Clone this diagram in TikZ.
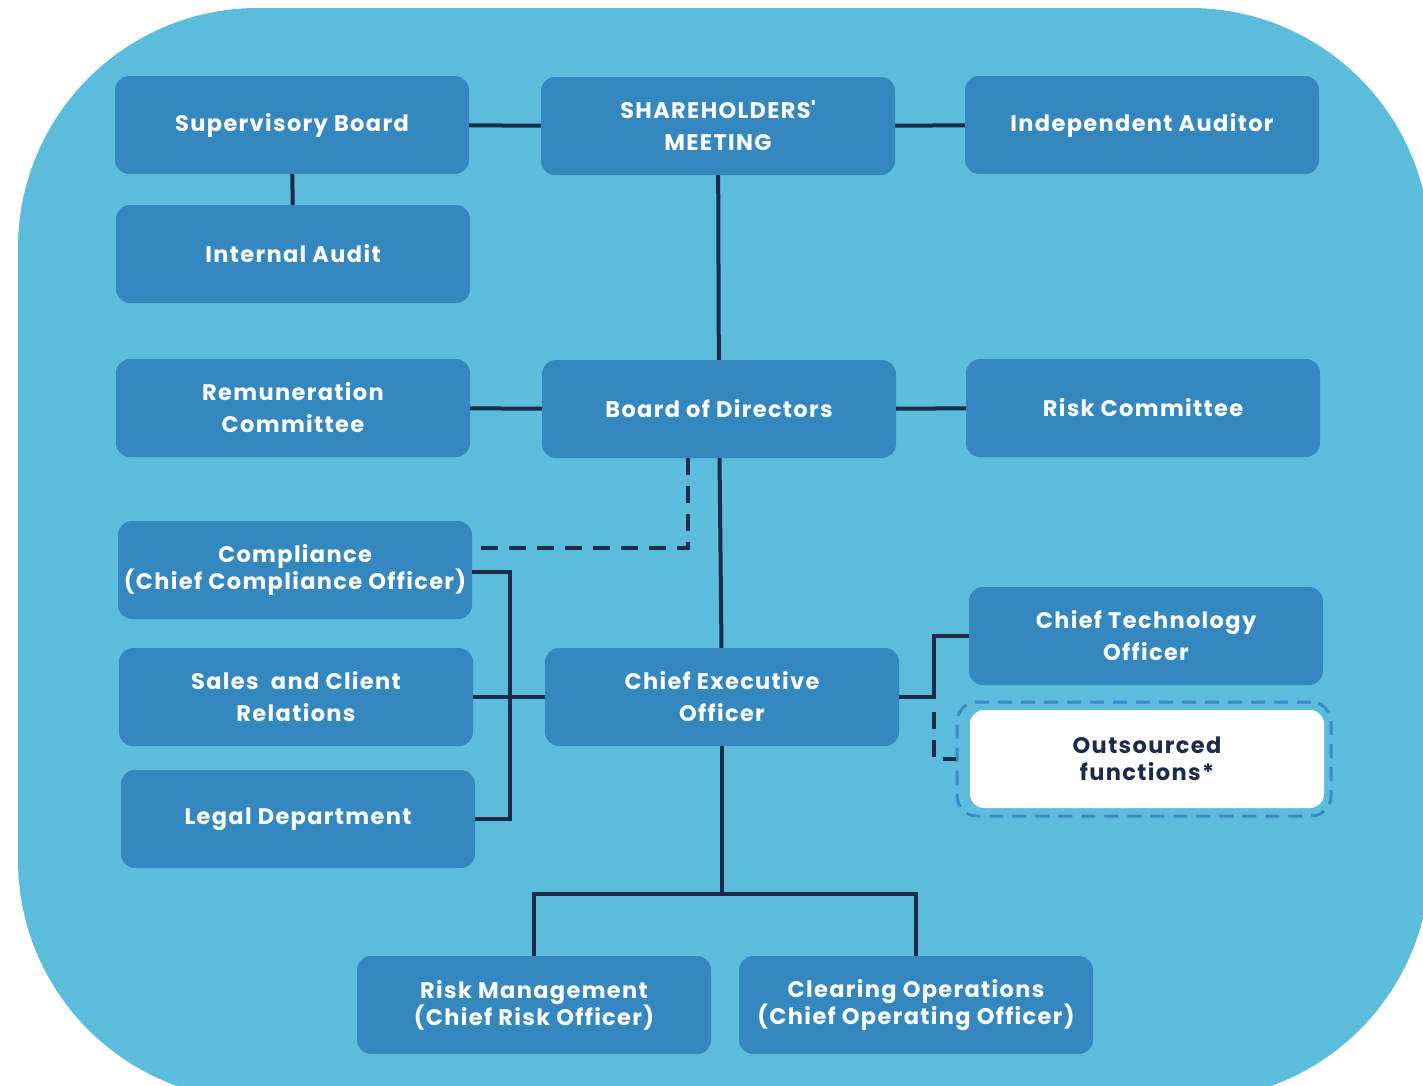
\documentclass[tikz,border=0pt]{standalone}
\usepackage{fontspec}
\setmainfont{Poppins}[LetterSpace=6]
\usetikzlibrary{calc}
\definecolor{bgblue}{HTML}{5BBCDC}
\definecolor{boxblue}{HTML}{3588BF}
\definecolor{navy}{HTML}{1C2B4B}
\definecolor{framecol}{HTML}{3A8AC4}
\begin{document}
\begin{tikzpicture}[x=1pt, y=-1pt,
    box/.style = {fill=boxblue, rounded corners=14pt, minimum width=354pt, minimum height=98pt, inner sep=0pt, align=center, text=white, font=\fontsize{22.5}{32}\selectfont\bfseries},
    tight/.style = {font=\fontsize{22.5}{27}\selectfont\bfseries},
    ln/.style = {draw=navy, line width=4pt},
    dln/.style = {ln, dash pattern=on 17pt off 11pt}]
      \useasboundingbox (0,0) rectangle (1423,1085);
      \begin{scope}
        \clip (0,0) rectangle (1423,1085);
        \fill [bgblue, rounded corners=240pt] (18,8) rectangle (1430,1100);
      \end{scope}

      \node [box] (sup) at (292,125) {Supervisory Board};
      \node [box] (sh) at (718,126) {SHAREHOLDERS\textquotesingle\\MEETING};
      \node [box] (aud) at (1142,125) {Independent Auditor};
      \node [box] (ia) at (293,254) {Internal Audit};
      \node [box] (rem) at (293,408) {Remuneration\\Committee};
      \node [box] (bod) at (719,409) {Board of Directors};
      \node [box] (rc) at (1143,408) {Risk Committee};
      \node [box, tight] (comp) at (295,570) {Compliance\\(Chief Compliance Officer)};
      \node [box] (sales) at (296,697) {Sales\ \ and Client\\Relations};
      \node [box] (legal) at (298,819) {Legal Department};
      \node [box] (ceo) at (722,697) {Chief Executive\\Officer};
      \node [box] (cto) at (1146,636) {Chief Technology\\Officer};
      \node [draw=framecol, line width=3pt, dash pattern=on 14pt off 9pt, rounded corners=20pt, minimum width=374pt, minimum height=114pt] (ofr) at (1144,759) {};
      \node [box, tight, fill=white, text=navy] (out) at (1147,759) {Outsourced\\functions*};
      \node [box, tight] (rm) at (534,1005) {Risk Management\\(Chief Risk Officer)};
      \node [box, tight] (co) at (916,1005) {Clearing Operations\\(Chief Operating Officer)};

      \coordinate (bus) at (510,697);
      \coordinate (j1) at (934,697);
      \coordinate (j2) at (934,712);
      \coordinate (j3) at (722,894);

      \draw [ln] (sup) -- (sh) -- (aud);
      \draw [ln] (sup) -- (ia);
      \draw [ln] (sh) -- (bod);
      \draw [ln] (rem) -- (bod) -- (rc);
      \draw [ln] (bod) -- (ceo);
      \draw [dln] ([xshift=-31pt]bod.south) |- ([yshift=22pt]comp.east);
      \draw [ln] ([yshift=-2pt]comp.east) -| (bus) |- (legal.east);
      \draw [ln] (sales) -- (ceo);
      \draw [ln] (ceo) -- (j1) |- (cto);
      \draw [dln] (j2) |- (ofr.west);
      \draw [ln] (ceo) -- (j3);
      \draw [ln] (rm) |- (j3) -| (co);
    \end{tikzpicture}
\end{document}
